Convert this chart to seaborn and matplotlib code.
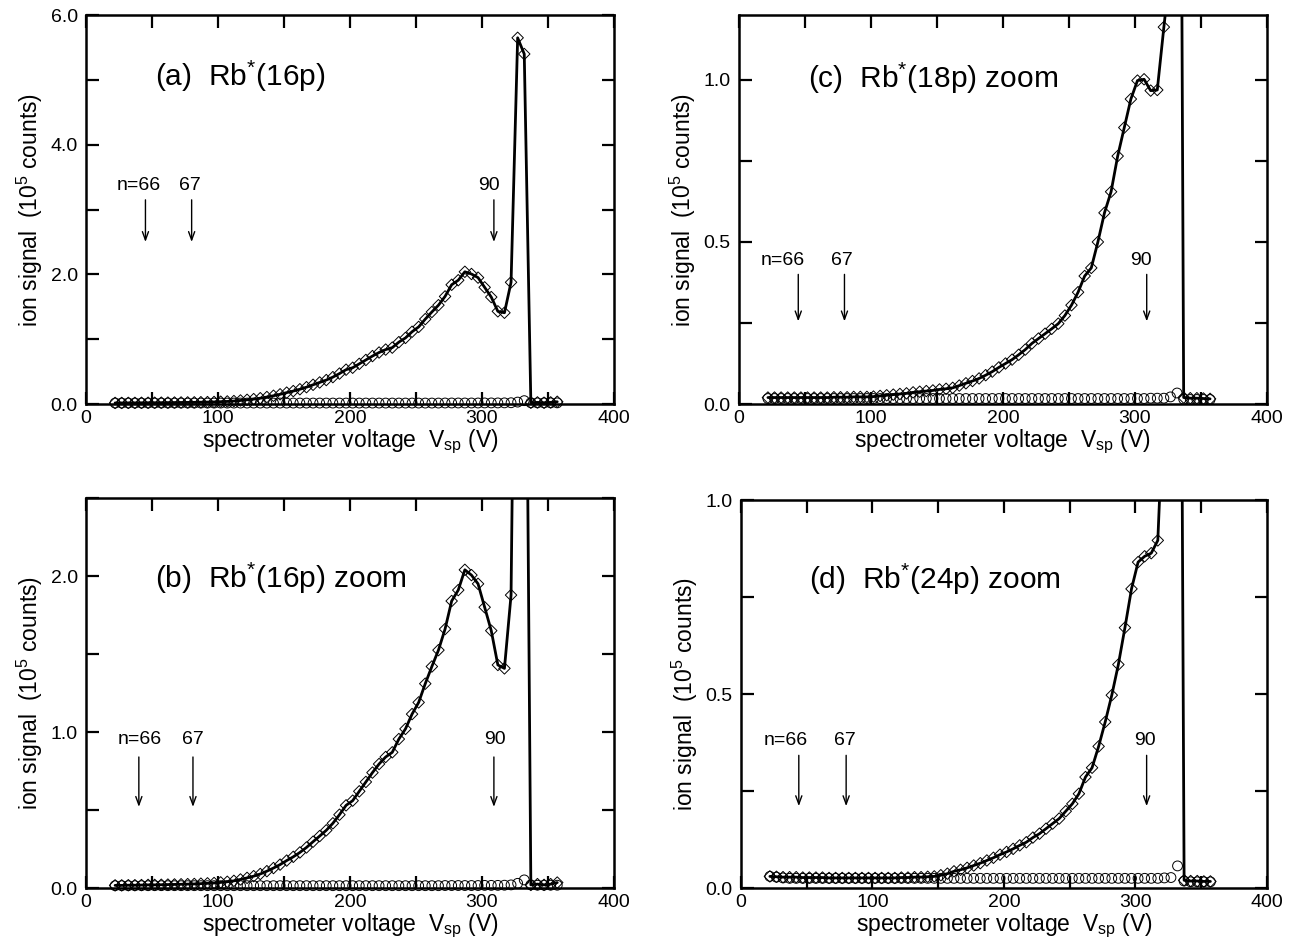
import matplotlib
matplotlib.use("Agg")
import matplotlib.pyplot as plt
from matplotlib.ticker import MultipleLocator, FormatStrFormatter
import seaborn as sns
import pandas as pd

# spectrometer voltage grid (V)
volts = [22, 27, 32, 37, 42, 47, 52, 57, 62, 67,
         72, 77, 82, 87, 92, 97, 102, 107, 112, 117,
         122, 127, 132, 137, 142, 147, 152, 157, 162, 167,
         172, 177, 182, 187, 192, 197, 202, 207, 212, 217,
         222, 227, 232, 237, 242, 247, 252, 257, 262, 267,
         272, 277, 282, 287, 292, 297, 302, 307, 312, 317,
         322, 327, 332, 337, 342, 347, 352, 357]

# ion signal (10^5 counts), diamonds = with field, circles = background
rb16p_diamond = [0.017, 0.017, 0.018, 0.018, 0.019, 0.020, 0.020, 0.021, 0.022, 0.023,
                 0.024, 0.025, 0.026, 0.028, 0.030, 0.032, 0.036, 0.040, 0.046, 0.055,
                 0.065, 0.076, 0.090, 0.108, 0.128, 0.150, 0.176, 0.200, 0.228, 0.260,
                 0.297, 0.333, 0.370, 0.415, 0.470, 0.530, 0.560, 0.620, 0.680, 0.740,
                 0.795, 0.840, 0.870, 0.955, 1.020, 1.115, 1.190, 1.310, 1.420, 1.525,
                 1.660, 1.840, 1.910, 2.040, 2.006, 1.950, 1.800, 1.650, 1.430, 1.408,
                 1.878, 5.650, 5.400, 0.020, 0.025, 0.020, 0.025, 0.035]
rb16p_circle = [0.015, 0.015, 0.015, 0.015, 0.015, 0.015, 0.015, 0.015, 0.015, 0.015,
                0.015, 0.015, 0.015, 0.015, 0.015, 0.015, 0.015, 0.015, 0.015, 0.015,
                0.015, 0.015, 0.015, 0.015, 0.015, 0.015, 0.015, 0.015, 0.015, 0.015,
                0.015, 0.015, 0.015, 0.015, 0.015, 0.015, 0.015, 0.015, 0.015, 0.015,
                0.015, 0.015, 0.015, 0.015, 0.015, 0.015, 0.015, 0.015, 0.015, 0.015,
                0.016, 0.016, 0.016, 0.016, 0.016, 0.016, 0.017, 0.017, 0.017, 0.018,
                0.020, 0.030, 0.052, 0.020, 0.018, 0.018, 0.018, 0.018]

rb18p_diamond = [0.020, 0.020, 0.020, 0.020, 0.020, 0.020, 0.020, 0.020, 0.020, 0.020,
                 0.021, 0.021, 0.021, 0.022, 0.022, 0.022, 0.023, 0.025, 0.027, 0.029,
                 0.031, 0.033, 0.036, 0.038, 0.040, 0.042, 0.045, 0.047, 0.050, 0.057,
                 0.064, 0.071, 0.079, 0.089, 0.100, 0.113, 0.125, 0.137, 0.152, 0.168,
                 0.187, 0.202, 0.217, 0.232, 0.248, 0.273, 0.305, 0.345, 0.395, 0.420,
                 0.500, 0.590, 0.655, 0.765, 0.853, 0.941, 0.998, 1.002, 0.967, 0.969,
                 1.163, 1.350, 4.500, 0.020, 0.018, 0.018, 0.017, 0.016]
rb18p_circle = [0.017, 0.017, 0.017, 0.017, 0.017, 0.017, 0.017, 0.017, 0.017, 0.017,
                0.017, 0.017, 0.017, 0.017, 0.017, 0.017, 0.017, 0.017, 0.017, 0.017,
                0.017, 0.017, 0.017, 0.017, 0.017, 0.017, 0.017, 0.017, 0.017, 0.017,
                0.017, 0.017, 0.017, 0.017, 0.017, 0.017, 0.017, 0.017, 0.017, 0.017,
                0.017, 0.017, 0.017, 0.017, 0.017, 0.017, 0.017, 0.017, 0.017, 0.017,
                0.017, 0.017, 0.017, 0.017, 0.017, 0.017, 0.017, 0.017, 0.018, 0.018,
                0.018, 0.022, 0.034, 0.015, 0.014, 0.014, 0.014, 0.014]

rb24p_diamond = [0.030, 0.029, 0.028, 0.028, 0.028, 0.027, 0.027, 0.027, 0.027, 0.026,
                 0.026, 0.026, 0.026, 0.026, 0.026, 0.026, 0.026, 0.026, 0.026, 0.026,
                 0.027, 0.027, 0.028, 0.028, 0.029, 0.030, 0.033, 0.037, 0.043, 0.047,
                 0.052, 0.058, 0.064, 0.071, 0.078, 0.086, 0.093, 0.101, 0.110, 0.118,
                 0.130, 0.140, 0.153, 0.166, 0.179, 0.198, 0.217, 0.243, 0.286, 0.310,
                 0.365, 0.428, 0.497, 0.576, 0.671, 0.771, 0.840, 0.855, 0.863, 0.896,
                 1.300, 2.500, 3.500, 0.020, 0.018, 0.018, 0.017, 0.017]
rb24p_circle = [0.030, 0.028, 0.026, 0.025, 0.025, 0.025, 0.025, 0.025, 0.025, 0.025,
                0.025, 0.025, 0.025, 0.025, 0.025, 0.025, 0.025, 0.025, 0.025, 0.025,
                0.025, 0.025, 0.025, 0.025, 0.025, 0.025, 0.025, 0.025, 0.025, 0.025,
                0.025, 0.025, 0.025, 0.025, 0.025, 0.025, 0.025, 0.025, 0.025, 0.025,
                0.025, 0.025, 0.025, 0.025, 0.025, 0.025, 0.025, 0.025, 0.025, 0.025,
                0.025, 0.025, 0.025, 0.025, 0.025, 0.025, 0.025, 0.025, 0.025, 0.025,
                0.026, 0.027, 0.057, 0.018, 0.016, 0.016, 0.016, 0.016]

panel_titles = ["(a)  Rb$^{*}$(16p)", "(b)  Rb$^{*}$(16p) zoom",
                "(c)  Rb$^{*}$(18p) zoom", "(d)  Rb$^{*}$(24p) zoom"]
arrow_labels = ["n=66", "67", "90"]
arrow_volts = [[45, 80, 309], [40, 81, 309], [45, 80, 309], [44, 80, 308.5]]
label_volts = [[40, 79, 305.5], [41, 81, 310], [33, 78, 305], [34, 79, 307]]

sns.set_style("ticks")
plt.rcParams["font.family"] = ["Liberation Sans", "DejaVu Sans"]
plt.rcParams["mathtext.fontset"] = "custom"
plt.rcParams["mathtext.rm"] = "Liberation Sans"
plt.rcParams["mathtext.it"] = "Liberation Sans:italic"
plt.rcParams["mathtext.bf"] = "Liberation Sans:bold"
for key in ["text.color", "axes.labelcolor", "xtick.color", "ytick.color", "axes.edgecolor"]:
    plt.rcParams[key] = "black"

panels = [
    dict(pos=[0.0665, 0.572, 0.408, 0.412], dia=rb16p_diamond, circ=rb16p_circle,
         ymax=6.0, major=2.0, minor=1.0, ytitle=0.842, ytxt=3.37, yarr=(3.15, 2.5)),
    dict(pos=[0.0665, 0.0593, 0.408, 0.4131], dia=rb16p_diamond, circ=rb16p_circle,
         ymax=2.5, major=1.0, minor=0.5, ytitle=0.795, ytxt=0.95, yarr=(0.84, 0.52)),
    dict(pos=[0.571, 0.572, 0.408, 0.412], dia=rb18p_diamond, circ=rb18p_circle,
         ymax=1.2, major=0.5, minor=0.25, ytitle=0.838, ytxt=0.444, yarr=(0.40, 0.255)),
    dict(pos=[0.5726, 0.0593, 0.4065, 0.411], dia=rb24p_diamond, circ=rb24p_circle,
         ymax=1.0, major=0.5, minor=0.25, ytitle=0.795, ytxt=0.379, yarr=(0.342, 0.211)),
]

fig = plt.figure(figsize=(12.94, 9.44), dpi=100)

for i, p in enumerate(panels):
    ax = fig.add_axes(p["pos"])
    df = pd.DataFrame({"V": volts, "dia": p["dia"], "circ": p["circ"]})

    # solid line through the diamond data
    sns.lineplot(data=df, x="V", y="dia", ax=ax, color="black", linewidth=2.0,
                 sort=False, estimator=None, zorder=2)

    # markers (only those inside the y range, drawn unclipped so they sit on the axis)
    dc = df[df["circ"] <= p["ymax"]]
    dd = df[df["dia"] <= p["ymax"]]
    sns.scatterplot(data=dc, x="V", y="circ", ax=ax, marker="o", s=50,
                    facecolor="none", edgecolor="black", linewidth=0.7,
                    zorder=3, clip_on=False)
    sns.scatterplot(data=dd, x="V", y="dia", ax=ax, marker="D", s=34,
                    facecolor="none", edgecolor="black", linewidth=0.7,
                    zorder=4, clip_on=False)

    ax.set_xlim(0, 400)
    ax.set_ylim(0, p["ymax"])
    ax.xaxis.set_major_locator(MultipleLocator(100))
    ax.xaxis.set_minor_locator(MultipleLocator(50))
    ax.yaxis.set_major_locator(MultipleLocator(p["major"]))
    ax.yaxis.set_minor_locator(MultipleLocator(p["minor"]))
    ax.yaxis.set_major_formatter(FormatStrFormatter("%.1f"))
    ax.tick_params(which="both", direction="in", length=9, width=1.6,
                   top=True, right=True, labelsize=14, color="black")
    ax.tick_params(axis="x", pad=4)
    ax.tick_params(axis="y", pad=6)
    for sp in ax.spines.values():
        sp.set_linewidth(1.8)
        sp.set_color("black")

    ax.set_xlabel("spectrometer voltage  V$_{\\mathrm{sp}}$ (V)", fontsize=16.5, labelpad=1)
    ax.set_ylabel("ion signal  (10$^{5}$ counts)", fontsize=16.5)
    ax.yaxis.set_label_coords(-0.077, 0.5)

    ax.text(0.13, p["ytitle"], panel_titles[i], transform=ax.transAxes, fontsize=21.5,
            ha="left", va="center")

    for lab, xa, xt in zip(arrow_labels, arrow_volts[i], label_volts[i]):
        ax.text(xt, p["ytxt"], lab, fontsize=14, ha="center", va="center")
        ax.annotate("", xy=(xa, p["yarr"][1]), xytext=(xa, p["yarr"][0]),
                    arrowprops=dict(arrowstyle="->,head_length=0.6,head_width=0.22",
                                    lw=1.0, color="black", shrinkA=0, shrinkB=0))

fig.savefig("out.png", dpi=100, facecolor="white")
